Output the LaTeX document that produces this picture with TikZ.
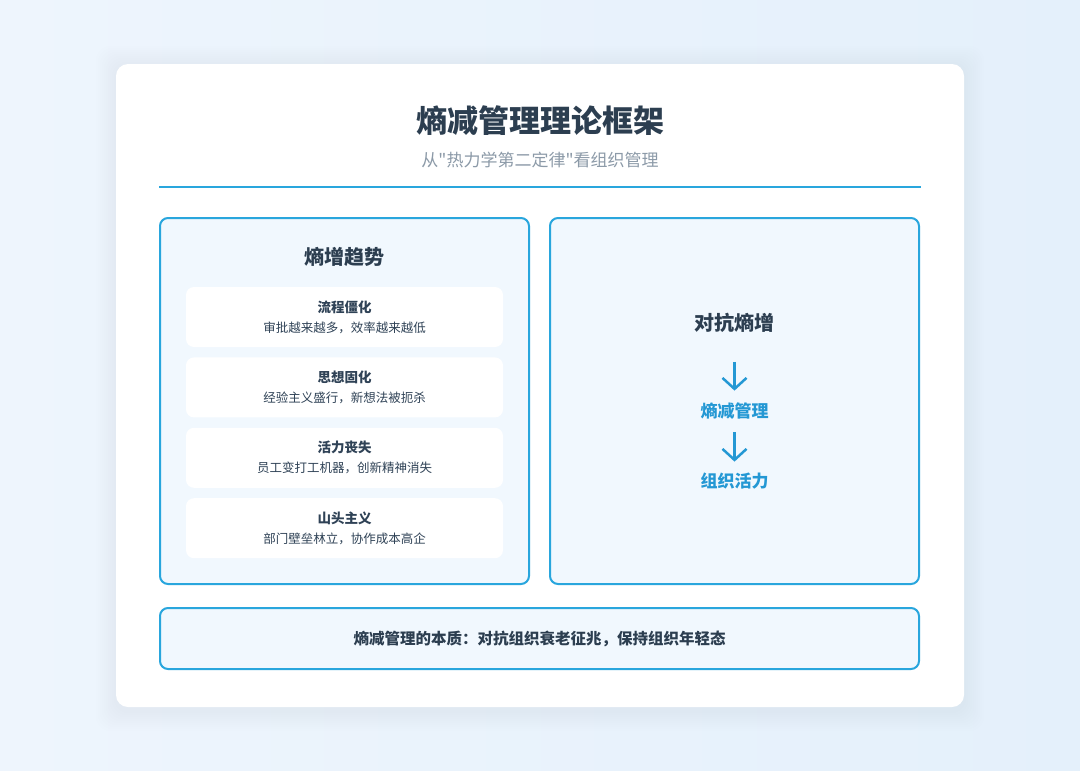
\documentclass[tikz,border=0pt]{standalone}
\usepackage{fontspec}
\setmainfont{Noto Sans CJK SC}[Ligatures=TeXOff]
\usepackage{xcolor}
\usetikzlibrary{arrows.meta, positioning}

\definecolor{bgleft}{HTML}{EEF5FD}
\definecolor{bgright}{HTML}{E4F0FB}
\definecolor{navy}{HTML}{2C3E50}
\definecolor{subgray}{HTML}{8C9AA8}
\definecolor{accent}{HTML}{29A6DD}
\definecolor{panelfill}{HTML}{F1F8FE}
\definecolor{itemtext}{HTML}{2F4256}
\definecolor{flowblue}{HTML}{2498D4}

\begin{document}
\begin{tikzpicture}[
    x=1pt, y=-1pt,
    title/.style={font=\fontsize{31}{36}\selectfont\bfseries, text=navy, inner sep=0pt},
    subtitle/.style={font=\fontsize{17}{20}\selectfont, text=subgray, inner sep=0pt},
    panel/.style={rectangle, draw=accent, line width=2pt, rounded corners=8pt, fill=panelfill, minimum width=369pt, minimum height=366pt},
    head/.style={font=\fontsize{20}{24}\selectfont\bfseries, text=navy, inner sep=0pt},
    item/.style={rectangle, rounded corners=8pt, fill=white, minimum width=317pt, minimum height=60pt, align=center, text=itemtext, font=\fontsize{12.5}{20}\selectfont},
    sideflow/.style={font=\fontsize{17}{20}\selectfont\bfseries, text=flowblue, inner sep=0pt},
    flow/.style={-{Straight Barb[length=11pt, width=24pt]}, line width=2.5pt, flowblue},
    essence/.style={rectangle, draw=accent, line width=2pt, rounded corners=8pt, fill=panelfill, minimum width=759pt, minimum height=61pt, font=\fontsize{15.5}{20}\selectfont\bfseries, text=navy}
]

\useasboundingbox (0,0) rectangle (1080,771);
\shade[left color=bgleft, right color=bgright] (0,0) rectangle (1080,771);

% Card with soft shadow
\foreach \i in {2,4,...,20}
  \fill[blue!50!gray, opacity=0.004, rounded corners=14pt] (116-\i,66-\i) rectangle (964+\i,711+\i);
\fill[white, rounded corners=12pt] (116,64) rectangle (964,707);

% Header
\node[title] (maintitle) at (540,121) {熵减管理理论框架};
\node[subtitle] (subtitle) at (540,160) {从"热力学第二定律"看组织管理};
\draw[accent, line width=2.5pt] (159,187) -- (921,187);

% Left panel: entropy increase
\node[panel] (leftpanel) at (344.5,401) {};
\node[head] (lefthead) at (344.5,257) {熵增趋势};
\node[item] (item1) at (344.5,317) {{\fontsize{13.5}{20}\selectfont\bfseries 流程僵化}\\审批越来越多，效率越来越低};
\node[item, below=10pt of item1] (item2) {{\fontsize{13.5}{20}\selectfont\bfseries 思想固化}\\经验主义盛行，新想法被扼杀};
\node[item, below=10pt of item2] (item3) {{\fontsize{13.5}{20}\selectfont\bfseries 活力丧失}\\员工变打工机器，创新精神消失};
\node[item, below=10pt of item3] (item4) {{\fontsize{13.5}{20}\selectfont\bfseries 山头主义}\\部门壁垒林立，协作成本高企};

% Right panel: fighting entropy
\node[panel] (rightpanel) at (734.5,401) {};
\node[head] (anti) at (734.5,323) {对抗熵增};
\node[sideflow] (mgmt) at (734.5,411) {熵减管理};
\node[sideflow] (vital) at (734.5,481) {组织活力};
\draw[flow, shorten <=29pt, shorten >=12pt] (anti.south) -- (mgmt.north);
\draw[flow, shorten <=13pt, shorten >=11pt] (mgmt.south) -- (vital.north);

% Essence
\node[essence] (essence) at (539.5,638.5) {熵减管理的本质：对抗组织衰老征兆，保持组织年轻态};

\end{tikzpicture}
\end{document}
